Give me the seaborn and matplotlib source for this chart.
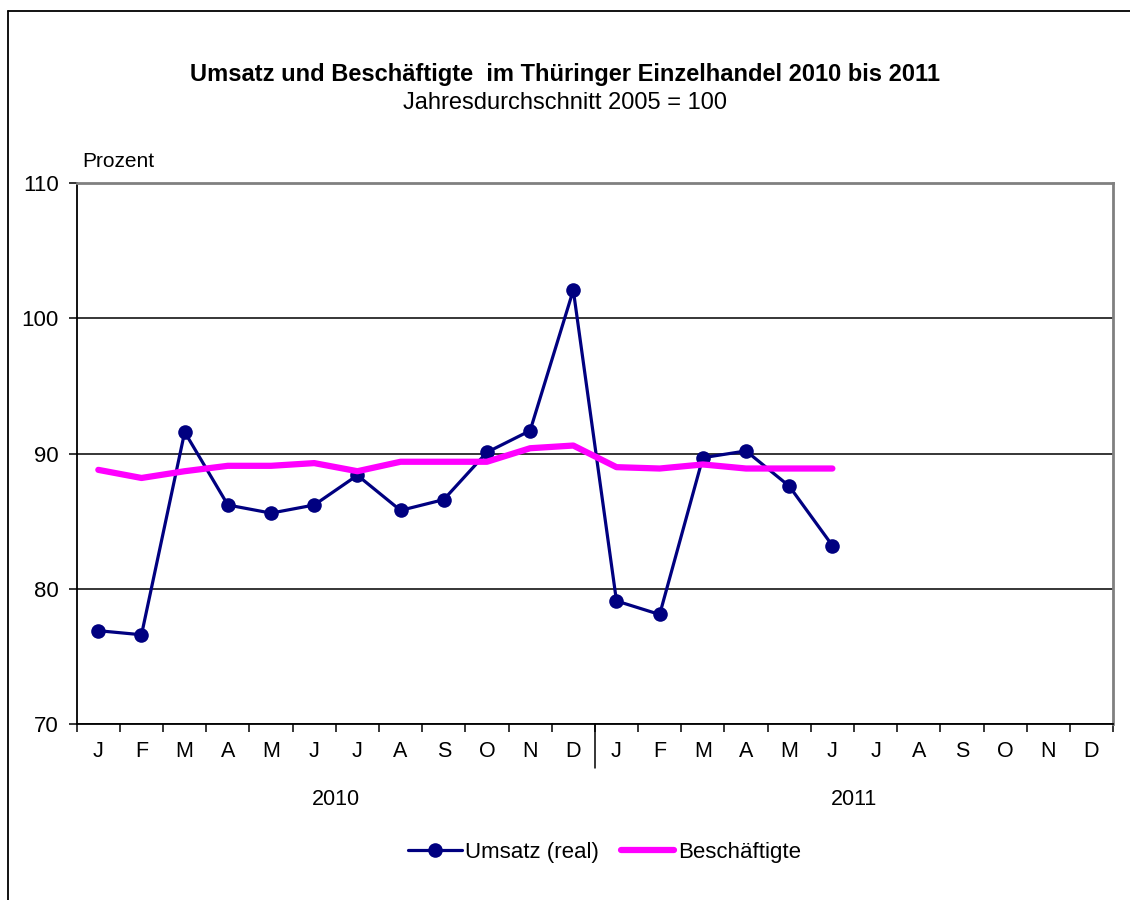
import numpy as np
import pandas as pd
import seaborn as sns
import matplotlib.pyplot as plt
from matplotlib.lines import Line2D

# Daten (Jahresdurchschnitt 2005 = 100)
monate = ["J", "F", "M", "A", "M", "J", "J", "A", "S", "O", "N", "D"] * 2
jahre = ["2010", "2011"]
umsatz = [76.9, 76.6, 91.6, 86.2, 85.6, 86.2, 88.4, 85.8, 86.6, 90.1, 91.7, 102.1,
          79.1, 78.1, 89.7, 90.2, 87.6, 83.2]
beschaeftigte = [88.8, 88.2, 88.7, 89.1, 89.1, 89.3, 88.7, 89.4, 89.4, 89.4, 90.4, 90.6,
                 89.0, 88.9, 89.2, 88.9, 88.9, 88.9]

df = pd.DataFrame({"pos": range(len(umsatz)),
                   "Umsatz (real)": umsatz,
                   "Beschäftigte": beschaeftigte})

sns.set_theme(style="white")
plt.rcParams["font.family"] = ["Liberation Sans", "DejaVu Sans"]
plt.rcParams["text.color"] = "black"
plt.rcParams["xtick.color"] = "black"
plt.rcParams["ytick.color"] = "black"

fig = plt.figure(figsize=(11.3, 9), dpi=100)
ax = fig.add_axes([0.0679, 0.1956, 0.9171, 0.6007])

sns.lineplot(data=df, x="pos", y="Umsatz (real)", ax=ax, color="#000080",
             linewidth=2.3, marker="o", markersize=10.5, markeredgewidth=0,
             label="Umsatz (real)")
sns.lineplot(data=df, x="pos", y="Beschäftigte", ax=ax, color="#FF00FF",
             linewidth=4.5, label="Beschäftigte", solid_capstyle="round")

ax.set_xlim(-0.5, len(monate) - 0.5)
ax.set_ylim(70, 110)
ax.set_yticks([70, 80, 90, 100, 110])
ax.set_yticklabels(["70", "80", "90", "100", "110"], fontsize=16)
ax.yaxis.grid(True, color="black", linewidth=1.1)
ax.set_axisbelow(True)

# Monatsgrenzen als Ticks, Monatsnamen mittig
ax.set_xticks(np.arange(-0.5, len(monate) + 0.5, 1))
ax.set_xticklabels([])
ax.set_xticks(np.arange(len(monate)), minor=True)
ax.set_xticklabels(monate, minor=True, fontsize=15.5)
ax.tick_params(axis="x", which="major", direction="out", length=6, width=1.1,
               color="black", bottom=True)
ax.tick_params(axis="x", which="minor", length=0, pad=12)
ax.tick_params(axis="y", direction="out", length=6, width=1.1, color="black",
               left=True, pad=7)
ax.set_xlabel("")
ax.set_ylabel("")

for s in ["left", "bottom"]:
    ax.spines[s].set_color("black")
    ax.spines[s].set_linewidth(1.3)
for s in ["top", "right"]:
    ax.spines[s].set_color("#808080")
    ax.spines[s].set_linewidth(2)

# Trennlinie zwischen den Jahren
ax.plot([11.5, 11.5], [0, -0.082], transform=ax.get_xaxis_transform(),
        color="black", linewidth=1.1, clip_on=False)
for i, j in enumerate(jahre):
    ax.text(5.5 + 12 * i, -0.14, j, transform=ax.get_xaxis_transform(),
            ha="center", va="center", fontsize=15.5)

ax.text(0.0058, 1.04, "Prozent", transform=ax.transAxes, fontsize=15,
        ha="left", va="center")

fig.text(0.5, 0.917, "Umsatz und Beschäftigte  im Thüringer Einzelhandel 2010 bis 2011",
         ha="center", va="center", fontsize=17, fontweight="bold")
fig.text(0.5, 0.886, "Jahresdurchschnitt 2005 = 100", ha="center", va="center",
         fontsize=17)

ax.legend(loc="center", bbox_to_anchor=(0.535, 0.053), bbox_transform=fig.transFigure,
          ncol=2, frameon=False, fontsize=16, handlelength=2.4, handletextpad=0.15,
          columnspacing=1.0)

# Rahmen links und oben
fig.add_artist(Line2D([8 / 1130, 8 / 1130], [0, 889 / 900], color="black", linewidth=1.3))
fig.add_artist(Line2D([8 / 1130, 1], [889 / 900, 889 / 900], color="black", linewidth=1.3))

fig.savefig("out.png", dpi=100)
